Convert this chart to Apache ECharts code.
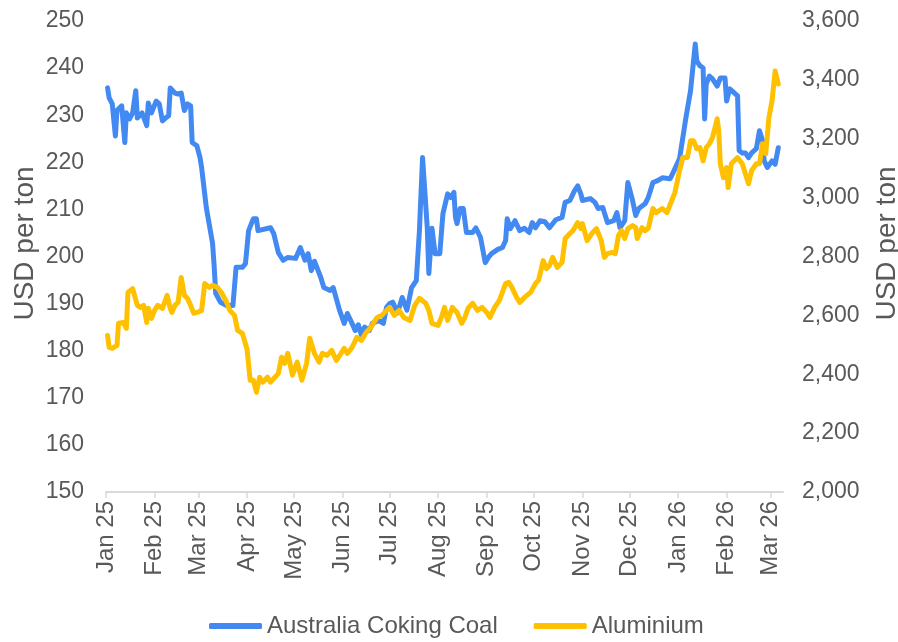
<!DOCTYPE html>
<html>
<head>
<meta charset="utf-8">
<script src="https://cdn.jsdelivr.net/npm/echarts@6/dist/echarts.min.js"></script>
<style>
  html, body { margin: 0; padding: 0; background: #fff; }
  #chart { width: 898px; height: 642px; }
</style>
</head>
<body>
<div id="chart"></div>
<script>
// Australia coking coal (USD/t, left axis) vs aluminium (USD/t, right axis)

const coalDates = [
  '2025-01-02','2025-01-03','2025-01-05','2025-01-07','2025-01-08','2025-01-11','2025-01-13','2025-01-14','2025-01-16','2025-01-18',
  '2025-01-20','2025-01-21','2025-01-24','2025-01-27','2025-01-28','2025-01-30','2025-02-02','2025-02-04','2025-02-06','2025-02-08',
  '2025-02-10','2025-02-11','2025-02-12','2025-02-14','2025-02-16','2025-02-18','2025-02-20','2025-02-22','2025-02-24','2025-02-25',
  '2025-02-28','2025-03-02','2025-03-03','2025-03-06','2025-03-10','2025-03-11','2025-03-12','2025-03-15','2025-03-19','2025-03-23',
  '2025-03-25','2025-03-29','2025-03-31','2025-04-02','2025-04-05','2025-04-07','2025-04-08','2025-04-16','2025-04-18','2025-04-21',
  '2025-04-24','2025-04-27','2025-05-02','2025-05-05','2025-05-08','2025-05-10','2025-05-12','2025-05-14','2025-05-18','2025-05-20',
  '2025-05-24','2025-05-26','2025-05-30','2025-06-02','2025-06-04','2025-06-07','2025-06-09','2025-06-11','2025-06-13','2025-06-15',
  '2025-06-18','2025-06-20','2025-06-24','2025-06-27','2025-06-29','2025-07-01','2025-07-03','2025-07-06','2025-07-09','2025-07-12',
  '2025-07-15','2025-07-18','2025-07-20','2025-07-22','2025-07-25','2025-07-26','2025-07-28','2025-07-30','2025-08-02','2025-08-04',
  '2025-08-07','2025-08-09','2025-08-11','2025-08-12','2025-08-13','2025-08-15','2025-08-17','2025-08-19','2025-08-23','2025-08-25',
  '2025-08-28','2025-08-31','2025-09-02','2025-09-04','2025-09-08','2025-09-11','2025-09-13','2025-09-14','2025-09-16','2025-09-19',
  '2025-09-22','2025-09-25','2025-09-28','2025-09-30','2025-10-02','2025-10-05','2025-10-08','2025-10-11','2025-10-15','2025-10-19',
  '2025-10-21','2025-10-24','2025-10-27','2025-10-29','2025-10-31','2025-11-01','2025-11-06','2025-11-09','2025-11-11','2025-11-14',
  '2025-11-15','2025-11-17','2025-11-21','2025-11-23','2025-11-25','2025-11-28','2025-11-30','2025-12-03','2025-12-05','2025-12-07',
  '2025-12-11','2025-12-13','2025-12-16','2025-12-19','2025-12-22','2025-12-27','2025-12-30','2026-01-02','2026-01-06','2026-01-09',
  '2026-01-12','2026-01-13','2026-01-15','2026-01-17','2026-01-18','2026-01-19','2026-01-21','2026-01-23','2026-01-26','2026-01-28',
  '2026-01-31','2026-02-01','2026-02-03','2026-02-08','2026-02-09','2026-02-11','2026-02-13','2026-02-15','2026-02-17','2026-02-20',
  '2026-02-22','2026-02-24','2026-02-25','2026-02-27','2026-03-02','2026-03-04','2026-03-06'
];
const coalValues = [
  235.8,233.7,232.4,225.6,231.0,232.0,224.2,230.5,229.2,230.5,
  235.2,229.4,230.5,227.8,232.6,230.5,233.0,232.4,228.8,229.4,
  229.9,235.8,235.8,234.7,234.5,234.7,231.0,232.4,232.0,224.2,
  223.5,221.0,218.9,210.4,202.8,198.0,192.2,190.3,189.6,189.6,
  197.7,197.7,198.5,205.5,208.0,208.0,205.5,206.1,204.9,200.8,
  199.2,199.8,199.6,201.9,199.2,200.6,197.0,199.0,195.6,193.4,
  192.8,193.4,188.6,185.8,187.9,185.8,184.3,185.5,183.3,185.0,
  184.3,185.8,186.4,185.8,189.2,190.0,190.3,188.0,191.3,188.6,
  193.4,194.9,205.5,221.0,206.1,196.4,206.0,200.6,200.6,209.1,
  213.3,212.5,213.6,208.3,207.0,210.2,210.2,205.1,205.1,206.1,
  204.0,198.7,199.8,200.6,201.5,201.9,203.4,208.0,205.9,207.6,
  205.5,206.0,205.1,207.2,206.1,207.6,207.4,206.1,207.8,208.3,
  211.5,211.9,214.0,215.0,213.3,211.9,212.3,211.5,210.2,210.4,
  209.3,207.2,207.6,209.3,206.1,207.6,215.7,211.9,208.7,210.2,
  211.2,212.5,215.7,216.1,216.7,216.5,218.6,220.8,229.4,235.2,
  245.1,241.5,240.5,240.0,229.2,236.6,238.3,237.7,236.2,237.9,
  237.9,233.0,235.6,234.1,222.5,222.0,222.0,221.0,222.0,222.9,
  226.7,224.6,220.3,218.9,220.3,219.6,223.1
];

const alumDates = [
  '2025-01-02','2025-01-03','2025-01-05','2025-01-08','2025-01-09','2025-01-12','2025-01-14','2025-01-15','2025-01-18','2025-01-21',
  '2025-01-23','2025-01-25','2025-01-27','2025-01-28','2025-01-30','2025-02-01','2025-02-03','2025-02-06','2025-02-09','2025-02-11',
  '2025-02-12','2025-02-14','2025-02-16','2025-02-18','2025-02-20','2025-02-22','2025-02-24','2025-02-26','2025-02-28','2025-03-03',
  '2025-03-05','2025-03-08','2025-03-10','2025-03-13','2025-03-16','2025-03-19','2025-03-21','2025-03-24','2025-03-26','2025-03-29',
  '2025-04-01','2025-04-03','2025-04-05','2025-04-07','2025-04-09','2025-04-11','2025-04-14','2025-04-16','2025-04-21','2025-04-23',
  '2025-04-25','2025-04-27','2025-04-30','2025-05-03','2025-05-06','2025-05-09','2025-05-11','2025-05-14','2025-05-17','2025-05-19',
  '2025-05-22','2025-05-25','2025-05-28','2025-05-31','2025-06-02','2025-06-04','2025-06-07','2025-06-10','2025-06-13','2025-06-16',
  '2025-06-19','2025-06-23','2025-06-26','2025-06-29','2025-07-01','2025-07-04','2025-07-07','2025-07-10','2025-07-14','2025-07-17',
  '2025-07-20','2025-07-24','2025-07-26','2025-07-28','2025-08-01','2025-08-03','2025-08-05','2025-08-07','2025-08-10','2025-08-13',
  '2025-08-16','2025-08-18','2025-08-20','2025-08-23','2025-08-26','2025-08-29','2025-09-01','2025-09-03','2025-09-06','2025-09-09',
  '2025-09-13','2025-09-15','2025-09-17','2025-09-20','2025-09-22','2025-09-25','2025-09-29','2025-10-02','2025-10-04','2025-10-07',
  '2025-10-09','2025-10-11','2025-10-13','2025-10-16','2025-10-19','2025-10-21','2025-10-24','2025-10-26','2025-10-29','2025-10-31',
  '2025-11-01','2025-11-04','2025-11-07','2025-11-10','2025-11-13','2025-11-15','2025-11-17','2025-11-20','2025-11-22','2025-11-24',
  '2025-11-26','2025-11-28','2025-11-30','2025-12-03','2025-12-05','2025-12-06','2025-12-09','2025-12-11','2025-12-13','2025-12-16',
  '2025-12-18','2025-12-20','2025-12-22','2025-12-25','2025-12-30','2026-01-02','2026-01-04','2026-01-07','2026-01-09','2026-01-11',
  '2026-01-13','2026-01-15','2026-01-17','2026-01-19','2026-01-21','2026-01-23','2026-01-26','2026-01-27','2026-01-28','2026-01-30',
  '2026-02-01','2026-02-02','2026-02-04','2026-02-08','2026-02-11','2026-02-13','2026-02-15','2026-02-17','2026-02-20','2026-02-22',
  '2026-02-24','2026-02-26','2026-02-28','2026-03-02','2026-03-04','2026-03-05','2026-03-06'
];
const alumValues = [
  2532,2491,2488,2498,2573,2576,2556,2678,2691,2634,
  2627,2634,2576,2624,2590,2617,2634,2624,2668,2624,
  2610,2634,2644,2729,2668,2658,2634,2607,2610,2617,
  2708,2695,2702,2695,2675,2644,2617,2600,2549,2539,
  2485,2380,2380,2339,2390,2373,2390,2373,2403,2458,
  2437,2471,2397,2441,2380,2437,2522,2471,2441,2471,
  2464,2481,2447,2471,2488,2471,2491,2525,2515,2542,
  2559,2593,2600,2617,2627,2600,2617,2593,2583,2634,
  2658,2641,2617,2573,2566,2593,2627,2583,2627,2610,
  2573,2593,2624,2641,2617,2627,2610,2593,2627,2651,
  2708,2712,2695,2661,2644,2661,2678,2708,2719,2786,
  2759,2769,2797,2763,2780,2861,2878,2888,2915,2895,
  2912,2854,2878,2895,2854,2797,2810,2814,2810,2871,
  2888,2861,2895,2905,2898,2861,2898,2888,2895,2963,
  2949,2956,2963,2949,3017,3092,3136,3136,3193,3193,
  3166,3170,3125,3170,3183,3204,3268,3227,3115,3068,
  3102,3034,3115,3136,3115,3081,3047,3092,3115,3115,
  3183,3149,3271,3329,3430,3407,3386
];

const seriesNames = ['Australia Coking Coal', 'Aluminium'];
const monthNames = ['Jan','Feb','Mar','Apr','May','Jun','Jul','Aug','Sep','Oct','Nov','Dec'];

const TEXT = '#595959';
const FONT = 'Liberation Sans, Arial, sans-serif';
const DAY = 86400000;

const chart = echarts.init(document.getElementById('chart'));

const nameStyle = {
  color: TEXT, fontSize: 28, fontFamily: FONT,
  padding: [0, 0, 0, 26], // nudges the rotated title a little upwards
};

chart.setOption({
  animation: false,
  grid: { left: 106, right: 115, top: 21, bottom: 150, containLabel: false, outerBoundsMode: 'none' },
  legend: {
    top: 609,
    left: 204,
    icon: 'roundRect',
    itemWidth: 53,
    itemHeight: 6,
    itemGap: 36,
    textStyle: { color: TEXT, fontSize: 24, fontFamily: FONT },
    data: seriesNames,
  },
  xAxis: {
    type: 'time',
    min: '2025-01-01',
    max: '2026-03-09',
    minInterval: 28 * DAY,
    maxInterval: 31 * DAY,
    axisLine: { lineStyle: { color: '#d9d9d9', width: 2 } },
    axisTick: { show: true, length: 6, lineStyle: { color: '#d9d9d9', width: 1.5 } },
    splitLine: { show: false },
    axisLabel: {
      rotate: 90,
      margin: 9,
      hideOverlap: false,
      color: TEXT,
      fontSize: 24,
      fontFamily: FONT,
      formatter: (v) => {
        const d = new Date(v);
        return monthNames[d.getMonth()] + ' ' + String(d.getFullYear()).slice(2);
      },
    },
  },
  yAxis: [{
    type: 'value',
    min: 150, max: 250, interval: 10,
    name: 'USD per ton',
    nameLocation: 'middle',
    nameGap: 67,
    nameMoveOverlap: false,
    nameTextStyle: nameStyle,
    axisLine: { show: false },
    axisTick: { show: false },
    splitLine: { show: false },
    axisLabel: { color: TEXT, fontSize: 23, fontFamily: FONT, margin: 22 },
  }, {
    type: 'value',
    min: 2000, max: 3600, interval: 200,
    name: 'USD per ton',
    nameLocation: 'middle',
    nameGap: 90,
    nameTextStyle: nameStyle,
    axisLine: { show: false },
    axisTick: { show: false },
    splitLine: { show: false },
    axisLabel: {
      color: TEXT, fontSize: 23, fontFamily: FONT, margin: 19,
      formatter: (v) => v.toLocaleString('en-US'),
    },
  }],
  series: [{
    name: seriesNames[0],
    type: 'line',
    yAxisIndex: 0,
    showSymbol: false,
    lineStyle: { color: '#4389f2', width: 5, cap: 'round', join: 'round' },
    itemStyle: { color: '#4389f2' },
    data: coalDates.map((d, i) => [d, coalValues[i]]),
  }, {
    name: seriesNames[1],
    type: 'line',
    yAxisIndex: 1,
    showSymbol: false,
    lineStyle: { color: '#ffc000', width: 5, cap: 'round', join: 'round' },
    itemStyle: { color: '#ffc000' },
    data: alumDates.map((d, i) => [d, alumValues[i]]),
  }],
});
</script>
</body>
</html>
